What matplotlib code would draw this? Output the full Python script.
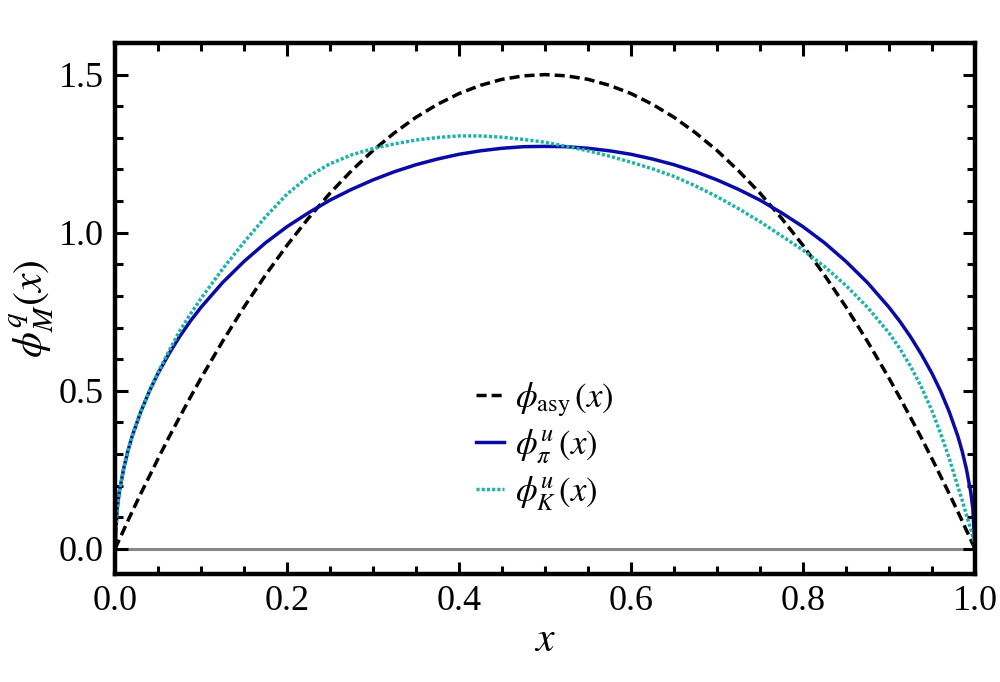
import matplotlib
matplotlib.use('Agg')
import matplotlib.pyplot as plt
from matplotlib.ticker import MultipleLocator

plt.rcParams['font.family'] = ['Liberation Serif', 'DejaVu Serif']
plt.rcParams['mathtext.fontset'] = 'stix'

# momentum fraction grid
x = [0.0, 0.0025, 0.005, 0.01, 0.015, 0.02, 0.03, 0.04, 0.05, 0.0625, 0.075,
     0.0875, 0.1, 0.125, 0.15, 0.175, 0.2, 0.225, 0.25, 0.275, 0.3, 0.325,
     0.35, 0.375, 0.4, 0.425, 0.45, 0.475, 0.5, 0.525, 0.55, 0.575, 0.6,
     0.625, 0.65, 0.675, 0.7, 0.725, 0.75, 0.775, 0.8, 0.825, 0.85, 0.875,
     0.9, 0.9125, 0.925, 0.9375, 0.95, 0.96, 0.97, 0.98, 0.985, 0.99, 0.995,
     0.9975, 1.0]

# asymptotic DA
phi_asy = [0.0, 0.015, 0.030, 0.059, 0.089, 0.118, 0.175, 0.230, 0.285, 0.352,
           0.416, 0.479, 0.540, 0.656, 0.765, 0.866, 0.960, 1.046, 1.125, 1.196,
           1.260, 1.316, 1.365, 1.406, 1.440, 1.466, 1.485, 1.496, 1.500, 1.496,
           1.485, 1.466, 1.440, 1.406, 1.365, 1.316, 1.260, 1.196, 1.125, 1.046,
           0.960, 0.866, 0.765, 0.656, 0.540, 0.479, 0.416, 0.352, 0.285, 0.230,
           0.175, 0.118, 0.089, 0.059, 0.030, 0.015, 0.0]

# pion, u quark
phi_pi = [0.0, 0.127, 0.180, 0.253, 0.310, 0.357, 0.434, 0.499, 0.555, 0.616,
          0.671, 0.720, 0.764, 0.842, 0.909, 0.968, 1.019, 1.063, 1.103, 1.137,
          1.167, 1.193, 1.215, 1.233, 1.248, 1.259, 1.267, 1.272, 1.273, 1.272,
          1.267, 1.259, 1.248, 1.233, 1.215, 1.193, 1.167, 1.137, 1.103, 1.063,
          1.019, 0.968, 0.909, 0.842, 0.764, 0.720, 0.671, 0.616, 0.555, 0.499,
          0.434, 0.357, 0.310, 0.253, 0.180, 0.127, 0.0]

# kaon, u quark
phi_K = [0.0, 0.127, 0.180, 0.253, 0.310, 0.357, 0.435, 0.500, 0.558, 0.625,
         0.688, 0.742, 0.792, 0.885, 0.970, 1.050, 1.122, 1.178, 1.218, 1.246,
         1.266, 1.281, 1.293, 1.301, 1.306, 1.306, 1.302, 1.295, 1.286, 1.273,
         1.259, 1.242, 1.223, 1.202, 1.178, 1.148, 1.114, 1.076, 1.035, 0.990,
         0.945, 0.893, 0.833, 0.764, 0.683, 0.634, 0.578, 0.513, 0.437, 0.365,
         0.287, 0.198, 0.155, 0.108, 0.062, 0.038, 0.0]

fig = plt.figure(figsize=(10, 6.82), dpi=100)
ax = fig.add_axes([0.115, 0.158, 0.86, 0.779])

ax.plot([0, 1], [0, 0], color='#888888', linewidth=2.2, zorder=1)

lw = 2.5
l1, = ax.plot(x, phi_asy, color='black', linewidth=lw, dashes=(2.9, 1.45),
              label=r'$\phi_{\mathrm{asy}}\,(x)$')
l2, = ax.plot(x, phi_pi, color='#0a0aa5', linewidth=lw,
              label=r'$\phi_{\pi}^{u}\,(x)$')
l3, = ax.plot(x, phi_K, color='#20b2aa', linewidth=lw, dashes=(0.9, 0.6),
              label=r'$\phi_{K}^{u}\,(x)$')

ax.set_xlim(0, 1)
ax.set_ylim(-0.08, 1.6)

ax.xaxis.set_major_locator(MultipleLocator(0.2))
ax.xaxis.set_minor_locator(MultipleLocator(0.05))
ax.yaxis.set_major_locator(MultipleLocator(0.5))
ax.yaxis.set_minor_locator(MultipleLocator(0.1))
ax.xaxis.set_major_formatter(plt.FuncFormatter(lambda v, p: f'{v:.1f}'))
ax.yaxis.set_major_formatter(plt.FuncFormatter(lambda v, p: f'{v:.1f}'))

ax.tick_params(which='both', direction='in', top=True, right=True,
               labelsize=26, width=2.2, pad=8)
ax.tick_params(which='major', length=9)
ax.tick_params(which='minor', length=6)
for s in ax.spines.values():
    s.set_linewidth(3.2)

ax.set_xlabel(r'$x$', fontsize=30, labelpad=2)
ax.set_ylabel(r'$\phi^{q}_{M}(x)$', fontsize=30, labelpad=2)

leg = ax.legend(handles=[l1, l2, l3], loc='center', bbox_to_anchor=(0.5, 0.24),
                frameon=False, fontsize=25, handlelength=0.8, handletextpad=0.3,
                labelspacing=0.25)

fig.savefig('out.png', dpi=100)
